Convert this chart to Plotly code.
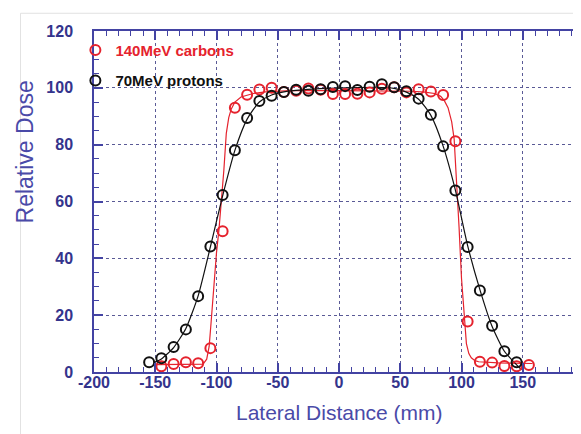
import plotly.graph_objects as go

# ---------------- data ----------------
carbon_x = [-145, -135, -125, -115, -105, -95, -85, -75, -65, -55, -45, -35, -25, -15, -5,
            5, 15, 25, 35, 45, 55, 65, 75, 85, 95, 105, 115, 125, 135, 145, 155]
carbon_y = [2.0, 2.8, 3.4, 3.1, 8.4, 49.5, 93.0, 97.6, 99.4, 100.0, 98.5, 99.0, 99.8, 99.3, 97.8,
            97.8, 97.9, 98.4, 99.7, 100.2, 98.4, 99.5, 98.7, 97.5, 81.2, 17.8, 3.6, 3.3, 2.1, 2.0, 2.5]

proton_x = [-155, -145, -135, -125, -115, -105, -95, -85, -75, -65, -55, -45, -35, -25, -15, -5,
            5, 15, 25, 35, 45, 55, 65, 75, 85, 95, 105, 115, 125, 135, 145]
proton_y = [3.4, 4.8, 8.8, 15.0, 26.7, 44.2, 62.3, 78.0, 89.4, 95.4, 97.2, 98.5, 99.3, 99.0, 99.5, 100.3,
            100.6, 99.2, 100.4, 101.3, 100.2, 98.8, 96.2, 90.5, 79.4, 63.9, 44.0, 28.7, 16.3, 7.3, 3.4]

# fitted curves drawn through the points
carbon_fit_x = [-149, -120, -111, -108, -106, -104.5, -102, -100, -98, -96, -94, -92, -90, -88, -85,
                -80, -70, -60, -40, 0, 40, 60, 70, 78, 83, 86, 89, 92, 94, 96, 98, 100, 102, 104,
                106, 108, 111, 114, 130, 158]
carbon_fit_y = [2.6, 2.6, 2.8, 4.5, 9.0, 17.0, 33.0, 42.0, 50.0, 60.0, 71.0, 84.0, 89.5, 92.5, 95.0,
                96.8, 98.0, 98.6, 99.0, 99.0, 99.0, 98.8, 98.5, 98.0, 97.0, 95.5, 93.0, 88.0, 82.0,
                68.0, 51.0, 33.0, 21.0, 10.0, 6.5, 5.0, 4.0, 3.6, 3.2, 3.0]

proton_fit_x = [-150, -145, -135, -125, -115, -105, -95, -85, -75, -65, -55, -45, -30, -10, 10, 30,
                45, 55, 65, 75, 85, 95, 105, 115, 125, 135, 145, 149]
proton_fit_y = [3.5, 4.6, 8.6, 15.3, 26.8, 44.0, 62.0, 78.0, 89.0, 95.0, 97.5, 98.6, 99.3, 99.8, 100.0,
                100.2, 99.8, 98.5, 96.0, 90.3, 79.5, 64.0, 44.5, 29.0, 16.0, 7.3, 2.5, 0.8]

x_tick_vals = [-200, -150, -100, -50, 0, 50, 100, 150, 200]
x_tick_text = ["-200", "-150", "-100", "-50", "0", "50", "100", "150", "200"]
y_tick_vals = [0, 20, 40, 60, 80, 100, 120]
y_tick_text = ["0", "20", "40", "60", "80", "100", "120"]

series_names = ["140MeV carbons", "70MeV protons"]

# ---------------- style ----------------
RED = "#e5222d"
BLACK = "#111111"
AX = "#4343a3"
GRID = "#5a5a96"
TICKFONT = dict(family="Liberation Sans, Arial, sans-serif", size=16, color="#34348c", weight="bold")
TITLEFONT = dict(family="Liberation Sans, Arial, sans-serif", size=21, color="#4a4aa8")

fig = go.Figure()

fig.add_trace(go.Scatter(x=carbon_fit_x, y=carbon_fit_y, mode="lines",
                         line=dict(color=RED, width=1.2), showlegend=False, hoverinfo="skip"))
fig.add_trace(go.Scatter(x=proton_fit_x, y=proton_fit_y, mode="lines",
                         line=dict(color=BLACK, width=1.2, shape="spline", smoothing=0.6),
                         showlegend=False, hoverinfo="skip"))

fig.add_trace(go.Scatter(x=carbon_x, y=carbon_y, mode="markers",
                         marker=dict(symbol="circle-open", size=10, color=RED, line=dict(width=2, color=RED)),
                         name='<span style="color:%s"><b>%s</b></span>' % (RED, series_names[0]),
                         legendgroup="c"))
fig.add_trace(go.Scatter(x=proton_x, y=proton_y, mode="markers",
                         marker=dict(symbol="circle-open", size=10, color=BLACK, line=dict(width=2, color=BLACK)),
                         name='<span style="color:%s"><b>%s</b></span>' % (BLACK, series_names[1]),
                         legendgroup="p"))

axis_common = dict(
    showgrid=True, gridcolor=GRID, griddash="dot", gridwidth=1,
    showline=True, linecolor=AX, linewidth=1.5, mirror="allticks",
    ticks="inside", ticklen=9, tickwidth=1.5, tickcolor=AX,
    zeroline=False, tickfont=TICKFONT,
)

fig.update_xaxes(range=[-200, 200], tickmode="array", tickvals=x_tick_vals, ticktext=x_tick_text,
                 minor=dict(dtick=10, tick0=0, ticks="inside", ticklen=5, tickwidth=1.2,
                            tickcolor=AX, showgrid=False),
                 ticklabelstandoff=-5,
                 **axis_common)
fig.update_yaxes(range=[0, 120], tickmode="array", tickvals=y_tick_vals, ticktext=y_tick_text,
                 minor=dict(dtick=5, tick0=0, ticks="inside", ticklen=5, tickwidth=1.2,
                            tickcolor=AX, showgrid=False),
                 ticklabelstandoff=16,
                 **axis_common)

fig.update_layout(
    width=581, height=434,
    margin=dict(l=86, r=3, t=23, b=70),
    paper_bgcolor="white", plot_bgcolor="white",
    showlegend=True,
    legend=dict(x=-0.038, y=0.992, xanchor="left", yanchor="top",
                bgcolor="rgba(0,0,0,0)", borderwidth=0, traceorder="grouped", tracegroupgap=8,
                font=dict(family="Liberation Sans, Arial, sans-serif", size=15, color=BLACK)),
    annotations=[
        dict(text="Relative Dose", x=-0.140, y=0.645, xref="paper", yref="paper",
             textangle=-90, showarrow=False, font=dict(TITLEFONT, size=23),
             xanchor="center", yanchor="middle"),
        dict(text="Lateral Distance (mm)", x=0.5, y=-0.118, xref="paper", yref="paper",
             showarrow=False, font=TITLEFONT, xanchor="center", yanchor="middle"),
    ],
    shapes=[
        dict(type="rect", xref="paper", yref="paper", x0=-0.15, x1=1.2, y0=-0.3, y1=1.052,
             line=dict(color="#e2e2e2", width=1), fillcolor="rgba(0,0,0,0)", layer="below"),
        # white patch behind the legend that hides the grid there
        dict(type="rect", xref="paper", yref="paper", x0=0.0, x1=0.287, y0=0.783, y1=1.0,
             line=dict(width=0), fillcolor="white", layer="between"),
    ],
)

fig.write_html("out.html")
